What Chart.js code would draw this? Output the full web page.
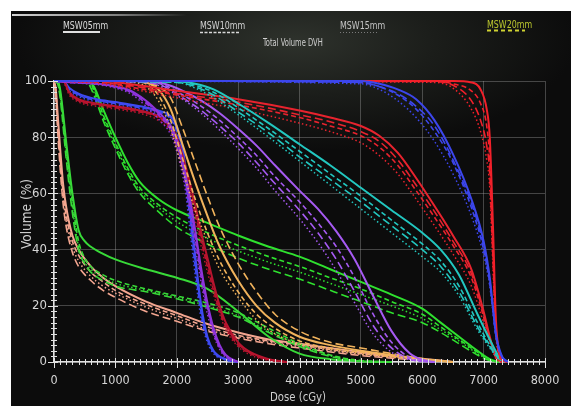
<!DOCTYPE html>
<html><head><meta charset="utf-8">
<script src="https://cdn.jsdelivr.net/npm/chart.js@4.4.1/dist/chart.umd.min.js"></script>
<style>
html,body{margin:0;padding:0;background:#fff;width:571px;height:406px;overflow:hidden;}
#panel{position:absolute;left:11px;top:11px;width:560px;height:395px;
 background:radial-gradient(ellipse 280px 110px at 285px 30px,#2e322c 0%,#1b1d1a 50%,#0c0c0c 100%);}
#topline{position:absolute;left:12px;top:14px;width:175px;height:2px;
 background:linear-gradient(to right,rgba(235,235,235,0.9),rgba(235,235,235,0.5) 60%,rgba(235,235,235,0));}
canvas{position:absolute;left:0;top:0;}
.txt{position:absolute;white-space:nowrap;font-family:'Liberation Sans Narrow','Arial Narrow','DejaVu Sans Condensed',sans-serif;color:#d2d2d2;transform-origin:0 0;line-height:1;}
svg.u{position:absolute;left:0;top:0;}
</style></head>
<body>
<div id="panel"></div>
<div id="topline"></div>
<canvas id="c" width="571" height="406"></canvas>
<div class="txt" style="left:63px;top:20px;font-size:11px;transform:scaleX(0.8);color:#dcdcdc">MSW05mm</div>
<div class="txt" style="left:200px;top:20px;font-size:11px;transform:scaleX(0.8);">MSW10mm</div>
<div class="txt" style="left:340px;top:20px;font-size:11px;transform:scaleX(0.8);color:#c4c4c4">MSW15mm</div>
<div class="txt" style="left:487px;top:19px;font-size:11px;transform:scaleX(0.8);color:#bcc82e">MSW20mm</div>
<div class="txt" style="left:263px;top:38px;font-size:10px;transform:scaleX(0.75);color:#cfcfcf">Total Volume DVH</div>
<div class="txt" style="left:270px;top:391px;font-size:12.5px;transform:scaleX(0.9);color:#cfcfcf">Dose (cGy)</div>
<div class="txt" style="left:20px;top:249px;font-size:13.5px;transform:rotate(-90deg);color:#cfcfcf">Volume (%)</div>
<svg class="u" width="571" height="60">
 <line x1="63" y1="32" x2="100" y2="32" stroke="#e0e0e0" stroke-width="2"/>
 <line x1="200" y1="32.5" x2="239" y2="32.5" stroke="#d8d8d8" stroke-width="1.5" stroke-dasharray="3 1.5"/>
 <line x1="340" y1="32.5" x2="378" y2="32.5" stroke="#7a7a7a" stroke-width="1" stroke-dasharray="1 2"/>
 <line x1="487" y1="30.5" x2="525" y2="30.5" stroke="#cfd232" stroke-width="2" stroke-dasharray="4 3"/>
</svg>
<script>
// ---- axes ----
const xTickValues=[0,1000,2000,3000,4000,5000,6000,7000,8000];
const yTickValues=[0,20,40,60,80,100];
const planNames=['MSW05mm','MSW10mm','MSW15mm','MSW20mm'];

// ---- DVH data (dose in cGy, volume in %) : rows = MSW05, MSW10, MSW15, MSW20 ----
const pinkDose=[0,30,60,100,150,200,300,400,600,800,1000,1500,2000,2500,3000,3500,4000,5000,6000,6500];
const pinkVols=[
 [100,97,88,76,63,55,45,40,34,30,27,21.5,17.5,13.5,10.5,8,6.5,3.5,1.2,0],
 [100,96,86,73,60,52,43,38,32,28.5,25.5,20.5,16.5,12.5,9.5,7.5,6,3,1,0],
 [100,95,84,71,58,50,41,36,30.5,27,24.5,19.5,15.5,11.5,9,7,5.5,2.7,0.8,0],
 [100,94,82,69,56,48,39,34,29,25.5,23,18,14.5,11,8.5,6.5,5,2.3,0.6,0]];

const green1Dose=[0,60,100,200,300,400,500,600,800,1000,1500,2000,2500,3000,3500,4000,4500,5000,5500];
const green1Vols=[
 [100,100,97,78,60,47,43,41,38.5,36.5,33,30,26,18,9,3,1,0.3,0],
 [100,100,96,76,57,43,37,34,31,29,26,23.5,21,17.5,12,6.5,2.5,0.5,0],
 [100,99,95,74,55,41,35.5,33,30,28,25.5,23,20,16.5,11,6,2.2,0.4,0],
 [100,99,94,72,53,40,35,32,29,27,25,22.5,19.5,16,10.5,5.5,2,0.3,0]];

const green2Dose=[0,550,650,800,1000,1200,1400,1700,2000,2500,3000,3500,4000,4500,5000,5500,6000,6300,6600,6900,7100,7250];
const green2Vols=[
 [100,100,98,90,80,71,64,58,54,49.5,45,41,37.5,33,28.5,24,19,14,9,4,1,0],
 [100,100,97,88,78,69,62,56,51.5,46,41.5,37.5,34,30,26,21.5,17,12.5,8,3.5,0.8,0],
 [100,99,96,87,77,68,61,55,50,44,39.5,35.5,32,28,24,20,15.5,11.5,7.5,3,0.6,0],
 [100,99,95,86,76,67,60,53.5,48,42,37,33,29.5,25.5,21.5,17.5,14,10.5,6.5,2.5,0.5,0]];

const orangeDose=[0,1300,1500,1700,1900,2100,2300,2500,2700,3000,3300,3600,4000,4500,5000,5500,6000,6500];
const orangeVols=[
 [100,100,99.5,97,90,77,64,52,41,29,20,14,9,6,4,2.5,1,0],
 [100,100,99,95,86,72,58,46,36,25,17,12,7.5,5,3.5,2,0.8,0],
 [100,99.5,98,93,83,68,54,43,33,23,15,10,6.5,4.5,3,1.8,0.6,0],
 [100,100,99.5,98,94,83,71,59,48,35,25,17,11,7,5,3,1.2,0]];

const blueADose=[0,150,250,400,700,1000,1400,1700,1900,2000,2100,2200,2300,2400,2500,2600,2800,3000];
const blueAVols=[
 [100,100,97.5,95.5,93.5,92.5,91,89.5,87.5,84,76,58,38,20,9,4,1,0],
 [100,100,97,95,93,92,90.5,89,86.5,82,72,54,34,17,8,3.5,0.8,0],
 [100,99.5,96.5,94.5,92.5,91.5,90,88,85,80,69,50,31,15,7,3,0.6,0],
 [100,100,97.2,95.2,93.2,92.2,90.8,89.2,87,83,74,56,36,18.5,8.5,3.8,0.9,0]];

const redADose=[0,150,250,400,700,1000,1400,1700,1900,2000,2100,2200,2300,2400,2500,2600,2700,2800,3000,3200,3500,3800];
const redAVols=[
 [100,100,96,93.5,92,91,89.5,87.5,84,80,73,65,56,46,37,28,20,14,7,3.5,1,0],
 [100,100,95.5,93,91.5,90.5,89,87,83,78.5,71,62,53,43,34,25.5,18,12.5,6,3,0.8,0],
 [100,99.5,95,92.5,91,90,88.5,86,82,77,69,60,50.5,41,32,24,17,11.5,5.5,2.5,0.6,0],
 [100,100,95.8,93.2,91.8,90.8,89.2,87.2,83.5,79.5,72,63.5,54.5,44.5,35.5,27,19,13,6.5,3.2,0.9,0]];

const purpleADose=[0,1200,1500,1700,1900,2000,2100,2200,2300,2400,2500,2600,2700,2800,3000];
const purpleAVols=[
 [100,97,93,89,84,79,71,60,47,33,21,12,6,2.5,0],
 [100,96.5,92,88,82.5,77,68.5,57,44,30,19,10.5,5,2,0],
 [100,96,91,86.5,81,75,66,54,41,28,17,9.5,4.5,1.5,0],
 [100,96.8,92.5,88.5,83.5,78,70,58.5,45.5,31.5,20,11,5.5,2.2,0]];

const violetDose=[0,1500,1800,2100,2400,2700,3000,3300,3600,4000,4300,4600,4900,5200,5500,5800,6000,6200];
const violetVols=[
 [100,100,99,96.5,93,88.5,83,77,70,61,54.5,46.5,36.5,23.5,11,3,0.8,0],
 [100,100,98.5,95,91,86,80,73.5,66,57,49.5,41,30,17,7,1.5,0.4,0],
 [100,99.5,97.5,93.5,88.5,82.5,76,69,61,51,42.5,32.5,21,10,3.5,0.8,0.2,0],
 [100,99.5,98,94,89.5,84,78,71,63.5,54,46,36.5,25,13,5,1,0.3,0]];

const cyanDose=[0,2000,2300,2600,3000,3500,4000,4500,5000,5500,6000,6300,6600,6900,7100,7250,7400];
const cyanVols=[
 [100,100,99,97,92,85,77.5,70,62,54,46,40,31,17,8,2,0],
 [100,100,98.5,96,90.5,83,75,67,59,50.5,42,36,27,14,6,1.5,0],
 [100,99.5,97.5,94,88,80,71.5,63,54.5,46,37.5,32,23.5,11.5,5,1,0],
 [100,99.5,98,95,89,81.5,73,65,57,48.5,40,34,25,12.5,5.5,1.2,0]];

const red2Dose=[0,800,1200,2000,3000,4000,4500,5000,5300,5600,5900,6200,6500,6800,7000,7100,7200,7300];
const red2Vols=[
 [100,100,99,96.5,93.5,89.5,87,84,80.5,74.5,65.5,55.5,45,33,18,9,2,0],
 [100,99.5,98,95,91.5,87,84,80.5,76.5,70,61,51.5,41.5,30,16,8,1.5,0],
 [100,99,97.5,94,90,85,82,78,73.5,67,58,48.5,38.5,27,14,7,1.2,0],
 [100,99.5,98.5,95.5,92.5,88,85.5,82,78.5,72,63,53.5,43,31.5,17,8.5,1.8,0]];

const blue2Dose=[0,5000,5300,5600,5900,6200,6500,6800,7000,7100,7150,7200,7300,7400];
const blue2Vols=[
 [100,100,99,97,93.5,86,74,58,43,30,20,10,2,0],
 [100,99.5,98,95,90,82,71,55,40,28,19,9.5,1.8,0],
 [100,99,97,93,87,78.5,67,52,38,27,18,9,1.5,0],
 [100,99.5,98,95.5,91,84,72,56.5,41.5,29,19.5,9.5,1.8,0]];

const redPTVDose=[0,6200,6500,6800,6950,7050,7100,7150,7200,7250,7300,7400];
const redPTVVols=[
 [100,100,100,99.5,97,90,80,50,15,4,1,0],
 [100,100,99,96.5,92,84,72,42,12,3,0.8,0],
 [100,99.5,97.5,90,82,72,62,35,10,2.5,0.5,0],
 [100,99.8,98.5,93,86,77,67,38,11,3,0.7,0]];

// ---- styling (kept apart from the data) ----
const structures=[
 {dose:blue2Dose, vols:blue2Vols, color:'#3c46ec'},
 {dose:redPTVDose, vols:redPTVVols, color:'#f2202a'},
 {dose:cyanDose, vols:cyanVols, color:'#22c7c0'},
 {dose:red2Dose, vols:red2Vols, color:'#e8232e'},
 {dose:violetDose, vols:violetVols, color:'#a65af2'},
 {dose:orangeDose, vols:orangeVols, color:'#f1b35c'},
 {dose:purpleADose, vols:purpleAVols, color:'#8f34dc'},
 {dose:redADose, vols:redAVols, color:'#b8142e'},
 {dose:blueADose, vols:blueAVols, color:'#3e4af2'},
 {dose:green2Dose, vols:green2Vols, color:'#2fe12f'},
 {dose:green1Dose, vols:green1Vols, color:'#38da38'},
 {dose:pinkDose, vols:pinkVols, color:'#f4a690'}
];
const planStyles=[
 {dash:[], width:2},
 {dash:[5,3], width:1.6},
 {dash:[1.5,2.5], width:1.5},
 {dash:[8,4], width:1.6}
];

const datasets=[];
structures.forEach(s=>{
 s.vols.forEach((row,p)=>{
  datasets.push({
   label:planNames[p],
   data:s.dose.map((d,i)=>({x:d,y:row[i]})),
   borderColor:s.color,
   borderWidth:planStyles[p].width,
   borderDash:planStyles[p].dash,
   pointRadius:0,
   fill:false,
   cubicInterpolationMode:'monotone',
   clip:4
  });
 });
});

const FONT="'Liberation Sans Narrow','Arial Narrow','DejaVu Sans Condensed',sans-serif";

const minorTicks={id:'minorTicks',afterDraw(chart){
 const {ctx,scales:{x,y},chartArea:a}=chart;
 ctx.save(); ctx.strokeStyle='#e2e2e2'; ctx.lineWidth=1; ctx.beginPath();
 for(let v=0;v<=8000;v+=100){
  const px=Math.round(x.getPixelForValue(v))+0.5, major=v%1000===0;
  ctx.moveTo(px,a.bottom-(major?4:3)); ctx.lineTo(px,a.bottom+(major?6:3));
 }
 for(let v=0;v<=100;v+=2){
  const py=Math.round(y.getPixelForValue(v))+0.5, major=v%20===0;
  ctx.moveTo(a.left-(major?6:3),py); ctx.lineTo(a.left+(major?4:3),py);
 }
 ctx.stroke(); ctx.restore();
}};

new Chart(document.getElementById('c'),{
 type:'line',
 data:{datasets},
 plugins:[minorTicks],
 options:{
  responsive:false, animation:false, events:[],
  layout:{padding:{top:81,right:26,left:0,bottom:0}},
  plugins:{legend:{display:false},tooltip:{enabled:false},title:{display:false}},
  scales:{
   x:{type:'linear',min:0,max:8000,
    afterBuildTicks:s=>{s.ticks=xTickValues.map(v=>({value:v}));},
    afterFit:s=>{s.height=44;},
    ticks:{color:'#d6d6d6',font:{family:FONT,size:12.5},padding:11,maxRotation:0,autoSkip:false,callback:v=>String(v)},
    grid:{color:'rgba(185,185,185,0.33)',lineWidth:1,drawTicks:false},
    border:{color:'#e2e2e2',width:1.5}},
   y:{type:'linear',min:0,max:100,
    afterBuildTicks:s=>{s.ticks=yTickValues.map(v=>({value:v}));},
    afterFit:s=>{s.width=54;},
    ticks:{color:'#d6d6d6',font:{family:FONT,size:13},padding:7,callback:v=>String(v)},
    grid:{color:'rgba(185,185,185,0.33)',lineWidth:1,drawTicks:false},
    border:{color:'#e2e2e2',width:1.5}}
  }
 }
});
</script>
</body></html>
